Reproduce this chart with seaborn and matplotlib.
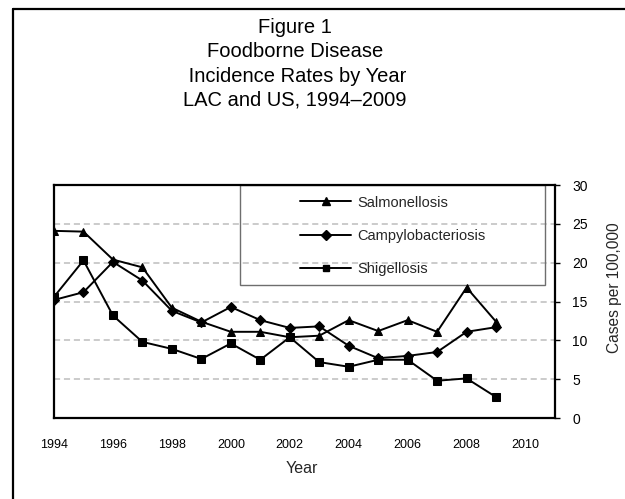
import pandas as pd
import numpy as np
import matplotlib.pyplot as plt
import matplotlib.lines as mlines
import matplotlib.patches as mpatches
import seaborn as sns

# ------------------------------------------------------------
# 数据
# ------------------------------------------------------------
years = list(range(1994, 2010))
salmonellosis = [24.1, 24.0, 20.4, 19.4, 14.2, 12.4, 11.1, 11.1,
                 10.4, 10.6, 12.6, 11.2, 12.6, 11.1, 16.8, 12.4]
campylobacteriosis = [15.2, 16.2, 20.1, 17.7, 13.8, 12.3, 14.3, 12.6,
                      11.6, 11.8, 9.3, 7.7, 8.0, 8.5, 11.1, 11.7]
shigellosis = [15.6, 20.3, 13.2, 9.8, 8.9, 7.6, 9.6, 7.5,
               10.4, 7.2, 6.6, 7.5, 7.5, 4.8, 5.1, 2.7]
tick_years = list(range(1994, 2012))
tick_labels = [str(y) if (y % 2 == 0 and y <= 2010) else '' for y in tick_years]
y_ticks = [0, 5, 10, 15, 20, 25, 30]

title_lines = ["Figure 1", "Foodborne Disease", " Incidence Rates by Year",
               "LAC and US, 1994\u20132009"]

sns.set_style("white")
plt.rcParams['font.family'] = ['Liberation Sans', 'DejaVu Sans']

fig = plt.figure(figsize=(6.25, 4.99), dpi=100)
ax = fig.add_axes([0.0864, 0.1623, 0.8016, 0.4669])

series = [
    ("Salmonellosis", salmonellosis, '^', 6.0),
    ("Campylobacteriosis", campylobacteriosis, 'D', 5.6),
    ("Shigellosis", shigellosis, 's', 5.6),
]
handles = []
for name, vals, mk, ms in series:
    df = pd.DataFrame({'Year': years, 'Rate': vals})
    sns.lineplot(data=df, x='Year', y='Rate', ax=ax, color='black',
                 linewidth=1.4, marker=mk, markersize=ms,
                 markeredgecolor='black', markerfacecolor='black', zorder=3)
    handles.append(mlines.Line2D([], [], color='black', linewidth=1.4,
                                 marker=mk, markersize=ms * 0.85, label=name))

ax.set_xlim(1994, 2011)
ax.set_ylim(0, 30)

# 网格
for y in y_ticks[1:-1]:
    ax.axhline(y, color='#bdbdbd', linestyle=(0, (4, 2.5)), linewidth=1.1, zorder=0)

# 坐标轴
for s in ax.spines.values():
    s.set_color('black')
    s.set_linewidth(1.6)

ax.set_xticks(tick_years)
ax.set_xticklabels(tick_labels, fontsize=9)
ax.tick_params(axis='x', direction='out', length=3.5, width=1, pad=11.5, colors='black')

ax.yaxis.tick_right()
ax.set_yticks(y_ticks)
ax.set_yticklabels([str(v) for v in y_ticks], fontsize=10)
ax.tick_params(axis='y', direction='out', length=3.5, width=1, pad=9, colors='black')
ax.yaxis.set_label_position('right')

ax.set_xlabel('Year', fontsize=11.5)
ax.xaxis.set_label_coords(0.494, -0.185)
ax.set_ylabel('Cases per 100,000', fontsize=11.2)
ax.yaxis.set_label_coords(1.104, 0.558)

# 图例
box = mpatches.Rectangle((0.371, 0.571), 0.609, 0.429, transform=ax.transAxes,
                         fill=False, edgecolor='#6e6e6e', linewidth=1.0, zorder=1)
ax.add_patch(box)
ax.legend(handles=handles, loc='upper left', bbox_to_anchor=(0.491, 0.955),
          frameon=False, fontsize=10.5, borderpad=0, handlelength=3.5,
          handletextpad=0.4, labelspacing=1.32, borderaxespad=0)

# 标题
baselines = [33, 57, 81.5, 105]
for line, b in zip(title_lines, baselines):
    fig.text(0.472, 1 - b / 499, line, ha='center', va='baseline',
             fontsize=14.5, color='black')

# 外框
fig.add_artist(mlines.Line2D([13 / 625, 13 / 625], [0, 1 - 9 / 499],
                             color='black', linewidth=1.6, transform=fig.transFigure))
fig.add_artist(mlines.Line2D([13 / 625, 1], [1 - 9 / 499, 1 - 9 / 499],
                             color='black', linewidth=1.6, transform=fig.transFigure))

fig.savefig('out.png', dpi=100)
